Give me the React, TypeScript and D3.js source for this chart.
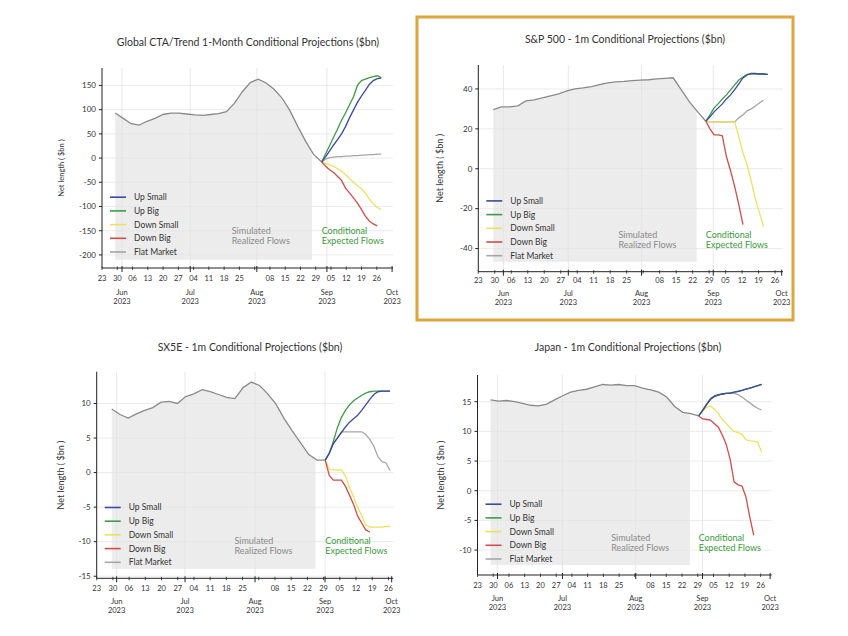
import React from 'react';
import * as d3 from 'd3';

const SERIES = ['Up Small', 'Up Big', 'Down Small', 'Down Big', 'Flat Market'];
const SERIES_COLORS = ['#3b4aa0', '#3e9b46', '#ede25e', '#d24e48', '#a6a6a6'];
const WEEK_LABELS = ['23', '30', '06', '13', '20', '27', '04', '11', '18', '25', '', '08', '15', '22', '29', '05', '12', '19', '26'];
const MONTH_LABELS = ['Jun', 'Jul', 'Aug', 'Sep', 'Oct'];
const YEAR_LABEL = '2023';

// ---- Global CTA/Trend ----
const ctaHistory = [93, 82, 71, 68, 76, 82, 90, 93, 93, 91, 89, 88, 90, 92, 96, 113, 137, 156, 163, 155, 142, 124, 98, 65, 34, 7, -8];
const ctaUpSmall = [-8, 3, 15, 27, 38, 50, 65, 83, 99, 115, 128, 140, 152, 160, 164, 165];
const ctaUpBig = [-8, 9, 26, 43, 60, 78, 93, 110, 126, 150, 160, 163, 166, 168, 170, 166];
const ctaDownSmall = [-8, -11, -14, -17, -22, -27, -34, -42, -50, -57, -63, -72, -85, -94, -102, -106];
const ctaDownBig = [-8, -17, -24, -30, -38, -46, -62, -72, -82, -93, -106, -120, -130, -136, -140];
const ctaFlat = [-8, -2, 1, 2, 3, 3, 4, 4, 5, 5, 6, 6, 7, 7, 8, 8];

// ---- S&P 500 ----
const spxHistory = [29.6, 31.0, 31.0, 31.5, 34.0, 34.5, 35.5, 36.5, 37.5, 39.0, 40.0, 40.5, 41.2, 42.2, 43.0, 43.5, 43.8, 44.2, 44.4, 44.6, 45.0, 45.3, 45.6, 39.5, 33.5, 28.5, 23.8];
const spxUpSmall = [23.8, 26, 28.5, 30.5, 32.5, 35, 37, 39.7, 42.5, 45.5, 47, 47.8, 47.8, 47.5, 47.5, 47.3];
const spxUpBig = [23.8, 27, 30.5, 32.5, 35, 37, 39.5, 42, 44.5, 46, 47.3, 47.5, 47.5, 47.5, 47.5, 47.3];
const spxDownSmall = [23.8, 23.5, 23.5, 23.5, 23.5, 23.5, 23.5, 23.5, 16, 8, 2, -6, -15, -22, -29];
const spxDownBig = [23.8, 20, 17, 17, 16.5, 6, -1, -9, -18, -28];
const spxFlat = [23.8, 23.5, 23.5, 23.5, 23.5, 23.5, 23.5, 23.5, 25.5, 27, 29, 30, 31.5, 33, 34.5];

// ---- SX5E ----
const sx5eHistory = [9.2, 8.4, 7.9, 8.5, 9.0, 9.4, 10.2, 10.3, 10.0, 11.0, 11.4, 12.0, 11.7, 11.3, 10.9, 10.7, 12.3, 13.1, 12.6, 11.4, 9.9, 7.8, 6.0, 4.3, 2.6, 1.8, 1.8];
const sx5eUpSmall = [1.8, 2.8, 4.2, 5.0, 5.8, 6.6, 7.3, 7.8, 8.3, 9.0, 9.8, 10.6, 11.3, 11.7, 11.8, 11.8, 11.8];
const sx5eUpBig = [1.8, 2.8, 4.5, 6.5, 8.0, 9.0, 9.8, 10.4, 10.8, 11.2, 11.5, 11.7, 11.8, 11.8, 11.8, 11.8, 11.8];
const sx5eDownSmall = [1.8, 0.5, 0.4, 0.4, 0.4, -0.5, -2.2, -3.5, -5.0, -6.2, -7.6, -7.9, -7.9, -7.9, -7.9, -7.8, -7.8];
const sx5eDownBig = [1.8, -0.4, -1.1, -1.1, -1.1, -2.0, -3.3, -4.6, -6.3, -7.3, -8.3, -8.6];
const sx5eFlat = [1.8, 2.8, 4.2, 5.0, 5.9, 5.9, 5.9, 5.9, 5.9, 5.9, 5.5, 4.8, 3.8, 2.3, 1.6, 1.4, 0.3];

// ---- Japan ----
const japanHistory = [15.3, 15.1, 15.2, 15.0, 14.7, 14.4, 14.3, 14.6, 15.3, 16.0, 16.6, 16.9, 17.1, 17.5, 17.9, 17.8, 17.9, 17.7, 17.7, 17.3, 17.0, 16.6, 15.8, 14.2, 13.2, 13.0, 12.6];
const japanUpSmall = [12.6, 13.5, 14.5, 15.4, 15.9, 16.1, 16.3, 16.4, 16.4, 16.6, 16.7, 16.9, 17.1, 17.3, 17.5, 17.7, 17.9];
const japanUpBig = [12.6, 13.6, 14.6, 15.5, 16.0, 16.2, 16.3, 16.4, 16.5, 16.6, 16.8, 16.9, 17.1, 17.3, 17.5, 17.7, 17.9];
const japanDownSmall = [12.6, 13.4, 14.0, 14.3, 13.7, 13.0, 12.0, 11.3, 10.6, 10.0, 9.8, 9.5, 8.6, 8.4, 8.3, 8.2, 6.5];
const japanDownBig = [12.6, 12.1, 12.0, 11.9, 11.3, 10.7, 9.4, 7.8, 5.3, 1.5, 1.0, 0.8, -1.0, -4.5, -7.5];
const japanFlat = [12.6, 13.5, 14.5, 15.4, 15.9, 16.1, 16.3, 16.4, 16.4, 16.4, 16.2, 15.8, 15.3, 14.8, 14.3, 13.9, 13.6];

type Cfg = {
  title: string; titleX: number; titleY: number;
  l: number; r: number; t: number; b: number;
  yLabelX: number; yLabelSize: number;
  xMax: number; yDomain: [number, number]; yTicks: number[];
  months: number[];
  histStart: number; histEnd: number; hist: number[];
  projStep: number; proj: number[][];
  shadeEnd: number; shadeFloor: number;
  tickY: number; monthY: number; yearY: number;
};

const panels: Cfg[] = [
  {
    title: 'Global CTA/Trend 1-Month Conditional Projections ($bn)', titleX: 248, titleY: 46,
    l: 102, r: 393, t: 68, b: 268, yLabelX: 64, yLabelSize: 7.5,
    xMax: 19.06, yDomain: [-227, 186], yTicks: [-200, -150, -100, -50, 0, 50, 100, 150],
    months: [1.31, 5.78, 10.14, 14.73, 19.0],
    histStart: 0.87, histEnd: 14.39, hist: ctaHistory,
    projStep: 0.26, proj: [ctaUpSmall, ctaUpBig, ctaDownSmall, ctaDownBig, ctaFlat],
    shadeEnd: 13.76, shadeFloor: -210, tickY: 281, monthY: 295, yearY: 304,
  },
  {
    title: 'S&P 500 - 1m Conditional Projections ($bn)', titleX: 625, titleY: 43,
    l: 478.3, r: 783, t: 65, b: 271.7, yLabelX: 443, yLabelSize: 9,
    xMax: 18.48, yDomain: [-51.6, 52], yTicks: [-40, -20, 0, 20, 40],
    months: [1.52, 5.46, 9.9, 14.25, 18.4],
    histStart: 0.91, histEnd: 13.8, hist: spxHistory,
    projStep: 0.25, proj: [spxUpSmall, spxUpBig, spxDownSmall, spxDownBig, spxFlat],
    shadeEnd: 13.24, shadeFloor: -46.6, tickY: 283, monthY: 296, yearY: 305,
  },
  {
    title: 'SX5E - 1m Conditional Projections ($bn)', titleX: 250, titleY: 351,
    l: 96.7, r: 393.3, t: 371.7, b: 578.3, yLabelX: 64, yLabelSize: 9,
    xMax: 18.3, yDomain: [-15.3, 14.6], yTicks: [-15, -10, -5, 0, 5, 10],
    months: [1.23, 5.45, 9.77, 14.09, 18.2],
    histStart: 0.93, histEnd: 14.1, hist: sx5eHistory,
    projStep: 0.25, proj: [sx5eUpSmall, sx5eUpBig, sx5eDownSmall, sx5eDownBig, sx5eFlat],
    shadeEnd: 13.5, shadeFloor: -13.9, tickY: 591, monthY: 604, yearY: 613,
  },
  {
    title: 'Japan - 1m Conditional Projections ($bn)', titleX: 628, titleY: 351,
    l: 477.5, r: 771.7, t: 375, b: 575, yLabelX: 444, yLabelSize: 9,
    xMax: 18.7, yDomain: [-14.2, 19.5], yTicks: [-10, -5, 0, 5, 10, 15],
    months: [1.27, 5.4, 10.06, 14.3, 18.6],
    histStart: 0.83, histEnd: 14.06, hist: japanHistory,
    projStep: 0.25, proj: [japanUpSmall, japanUpBig, japanDownSmall, japanDownBig, japanFlat],
    shadeEnd: 13.5, shadeFloor: -12.5, tickY: 588, monthY: 601, yearY: 610,
  },
];

const FONT = 'Lato, "Liberation Sans", sans-serif';
const DRAW_ORDER = [4, 2, 3, 1, 0];

function Panel({ cfg, idx }: { cfg: Cfg; idx: number }) {
  const x = d3.scaleLinear().domain([0, cfg.xMax]).range([cfg.l, cfg.r]);
  const y = d3.scaleLinear().domain(cfg.yDomain).range([cfg.b, cfg.t]);
  const n = cfg.hist.length;
  const histPts: [number, number][] = cfg.hist.map((v, i) => [cfg.histStart + (i * (cfg.histEnd - cfg.histStart)) / (n - 1), v]);
  const line = d3.line<[number, number]>().x(d => x(d[0])).y(d => y(d[1]));
  const area = d3.area<[number, number]>().x(d => x(d[0])).y0(y(cfg.shadeFloor)).y1(d => y(d[1]));
  const clipId = `shade-clip-${idx}`;
  const projPts = cfg.proj.map(vals => vals.map((v, i) => [cfg.histEnd + i * cfg.projStep, v] as [number, number]));
  const weekIdx = d3.range(WEEK_LABELS.length);
  const legendRowY = (i: number) => cfg.b - 16 - (4 - i) * 13.7;

  return (
    <g>
      <defs>
        <clipPath id={clipId}>
          <rect x={x(0)} y={cfg.t} width={x(cfg.shadeEnd) - x(0)} height={cfg.b - cfg.t} />
        </clipPath>
      </defs>
      <text x={cfg.titleX} y={cfg.titleY} textAnchor="middle" fontSize={10.5} fill="#333" fontFamily={FONT}>{cfg.title}</text>
      {/* shade */}
      <path d={area(histPts) || ''} fill="#ececec" clipPath={`url(#${clipId})`} />
      {/* grid */}
      {cfg.yTicks.map(t => (
        <line key={'hg' + t} x1={cfg.l} x2={cfg.r} y1={y(t)} y2={y(t)} stroke="#e2e2e2" strokeWidth={0.7} />
      ))}
      {cfg.months.slice(0, 4).map(m => (
        <line key={'vg' + m} x1={x(m)} x2={x(m)} y1={cfg.t} y2={cfg.b} stroke="#e2e2e2" strokeWidth={0.8} />
      ))}
      {/* lines */}
      <path d={line(histPts) || ''} fill="none" stroke="#8a8a8a" strokeWidth={1.3} />
      {DRAW_ORDER.map(si => (
        <path key={'p' + si} d={line(projPts[si]) || ''} fill="none" stroke={SERIES_COLORS[si]} strokeWidth={1.3} />
      ))}
      {/* axes */}
      <line x1={cfg.l} x2={cfg.l} y1={cfg.t} y2={cfg.b} stroke="#222" strokeWidth={1} />
      <line x1={cfg.l} x2={cfg.r} y1={cfg.b} y2={cfg.b} stroke="#222" strokeWidth={1} />
      {cfg.yTicks.map(t => (
        <g key={'yt' + t}>
          <line x1={cfg.l - 3} x2={cfg.l} y1={y(t)} y2={y(t)} stroke="#222" />
          <text x={cfg.l - 6} y={y(t)} dy="0.35em" textAnchor="end" fontSize={8} fill="#333" fontFamily={FONT}>{t}</text>
        </g>
      ))}
      {weekIdx.map(i => (
        <g key={'xt' + i}>
          <line x1={x(i)} x2={x(i)} y1={cfg.b - 1.5} y2={cfg.b + 2} stroke="#222" strokeWidth={0.8} />
          <text x={x(i)} y={cfg.tickY} textAnchor="middle" fontSize={7.5} fill="#333" fontFamily={FONT}>{WEEK_LABELS[i]}</text>
        </g>
      ))}
      {cfg.months.map((m, i) => (
        <g key={'mt' + i}>
          <line x1={x(m)} x2={x(m)} y1={cfg.b - 2} y2={cfg.b + 4} stroke="#222" strokeWidth={1} />
          <text x={x(m)} y={cfg.monthY} textAnchor="middle" fontSize={7.5} fill="#333" fontFamily={FONT}>{MONTH_LABELS[i]}</text>
          <text x={x(m)} y={cfg.yearY} textAnchor="middle" fontSize={7.5} fill="#333" fontFamily={FONT}>{YEAR_LABEL}</text>
        </g>
      ))}
      <text transform={`translate(${cfg.yLabelX},${(cfg.t + cfg.b) / 2}) rotate(-90)`} textAnchor="middle" fontSize={cfg.yLabelSize} fill="#333" fontFamily={FONT}>Net length ( $bn )</text>
      {/* legend */}
      {SERIES.map((s, i) => (
        <g key={'lg' + s}>
          <line x1={cfg.l + 8} x2={cfg.l + 24} y1={legendRowY(i)} y2={legendRowY(i)} stroke={SERIES_COLORS[i]} strokeWidth={1.6} />
          <text x={cfg.l + 32} y={legendRowY(i)} dy="0.35em" fontSize={8.5} fill="#333" fontFamily={FONT}>{s}</text>
        </g>
      ))}
      {/* annotations */}
      <text x={x(8.5)} y={cfg.b - 34} fontSize={9} fill="#8a8a8a" fontFamily={FONT}>Simulated</text>
      <text x={x(8.5)} y={cfg.b - 24} fontSize={9} fill="#8a8a8a" fontFamily={FONT}>Realized Flows</text>
      <text x={x(cfg.histEnd)} y={cfg.b - 34} fontSize={9} fill="#3a9a3a" fontFamily={FONT}>Conditional</text>
      <text x={x(cfg.histEnd)} y={cfg.b - 24} fontSize={9} fill="#3a9a3a" fontFamily={FONT}>Expected Flows</text>
    </g>
  );
}

export default function App() {
  return (
    <svg width={848} height={636} style={{ position: 'absolute', left: 0, top: 0, background: '#fff' }}>
      <rect x={0} y={0} width={848} height={636} fill="#fff" />
      {panels.map((p, i) => <Panel key={i} cfg={p} idx={i} />)}
      <rect x={417} y={17} width={376} height={303} fill="none" stroke="#dca63c" strokeWidth={3} />
    </svg>
  );
}
